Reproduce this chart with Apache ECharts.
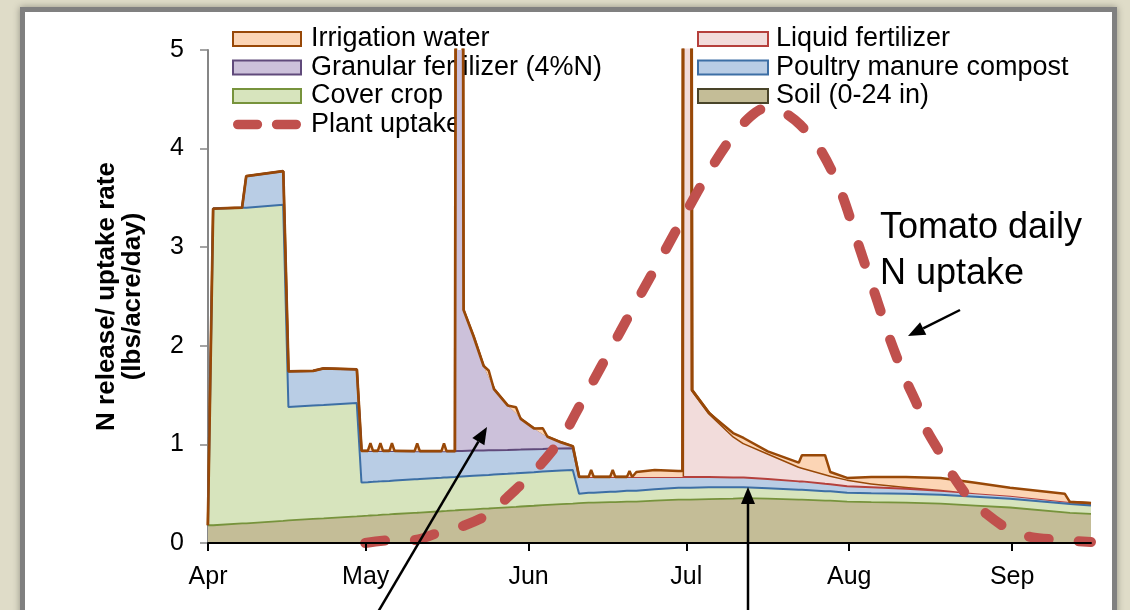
<!DOCTYPE html>
<html>
<head>
<meta charset="utf-8">
<script src="https://cdn.jsdelivr.net/npm/echarts@6/dist/echarts.min.js"></script>
<style>
  html, body { margin: 0; padding: 0; width: 1130px; height: 610px; overflow: hidden; background: #dfdcc8; }
  #panel { position: absolute; left: 20px; top: 7px; width: 1097px; height: 700px; box-sizing: border-box;
           border: 5px solid #808080; background: #fff; box-shadow: 0 0 7px rgba(0,0,0,0.35); }
  #chart { position: absolute; left: 0; top: 0; width: 1130px; height: 610px; }
</style>
</head>
<body>
<div id="panel"></div>
<div id="chart"></div>
<script>
// days after Apr 1
const days = [
  0, 1, 6.5, 7.3, 14.3, 15.3, 20, 22, 28.3, 29.2,
  30.4, 30.9, 31.4, 32.3, 32.8, 33.3, 34.5, 35, 35.5, 39.3,
  39.8, 40.3, 44.4, 44.9, 45.4, 47, 47.4, 48.3, 48.6, 50.5,
  52.4, 53.4, 54.4, 57, 58.6, 59.5, 62, 63.7, 64.6, 67.2,
  69.4, 70.6, 72.4, 72.9, 73.4, 76.5, 77, 77.5, 79.7, 80.2,
  80.7, 81.5, 85, 89.5, 90.3, 90.5, 91.8, 92.1, 95.3, 99.9,
  101.9, 106.5, 112.4, 113, 117.4, 118.4, 121.6, 126.2, 132.8, 139.4,
  146, 152.6, 163, 164, 168
];
const soil = [
  .18, .18, .20, .20, .225, .23, .245, .25, .27, .273,
  .277, .279, .28, .283, .285, .287, .29, .292, .294, .306,
  .307, .309, .322, .324, .325, .33, .332, .335, .336, .342,
  .348, .35, .354, .362, .367, .37, .378, .384, .387, .395,
  .40, .405, .41, .41, .41, .415, .415, .415, .42, .42,
  .42, .42, .43, .44, .44, .44, .44, .44, .445, .45,
  .455, .45, .44, .44, .43, .43, .42, .415, .41, .40,
  .38, .36, .31, .305, .295
];
const coverCrop = [
  0, 3.21, 3.20, 3.20, 3.205, 1.15, 1.15, 1.15, 1.15, .34,
  .34, .34, .34, .34, .34, .34, .34, .34, .34, .34,
  .34, .34, .34, .34, .34, .34, .34, .34, .34, .34,
  .34, .34, .34, .34, .34, .34, .34, .34, .34, .34,
  .34, .095, .10, .10, .10, .105, .105, .105, .11, .11,
  .11, .11, .115, .12, .12, .12, .12, .12, .12, .115,
  .11, .105, .10, .10, .095, .095, .09, .09, .09, .09,
  .09, .09, .09, .09, .085
];
const poultry = [
  0, 0, 0, .32, .34, .36, .35, .37, .34, .32,
  .316, .314, .313, .31, .308, .306, .302, .30, .298, .285,
  .284, .282, .268, .266, .265, .26, .26, .258, .258, .255,
  .25, .25, .247, .242, .24, .238, .234, .23, .229, .224,
  .22, .17, .16, .16, .16, .15, .15, .15, .14, .14,
  .14, .14, .125, .11, .11, .11, .11, .11, .105, .10,
  .10, .095, .085, .085, .075, .07, .065, .06, .05, .04,
  .035, .03, .02, .02, .02
];
const granular = [
  0, 0, 0, 0, 0, 0, 0, 0, 0, 0,
  0, 0, 0, 0, 0, 0, 0, 0, 0, 0,
  0, 0, 0, 0, 0, 0, 12, 12, 1.43, 1.16,
  .86, .74, .62, .45, .37, .31, .21, .15, .12, .06,
  .02, 0, 0, 0, 0, 0, 0, 0, 0, 0,
  0, 0, 0, 0, 0, 0, 0, 0, 0, 0,
  0, 0, 0, 0, 0, 0, 0, 0, 0, 0,
  0, 0, 0, 0, 0
];
const liquid = [
  0, 0, 0, 0, 0, 0, 0, 0, 0, 0,
  0, 0, 0, 0, 0, 0, 0, 0, 0, 0,
  0, 0, 0, 0, 0, 0, 0, 0, 0, 0,
  0, 0, 0, 0, 0, 0, 0, 0, 0, 0,
  0, 0, 0, 0, 0, 0, 0, 0, 0, 0,
  0, 0, 0, 0, 0, 12, 12, .88, .65, .42,
  .35, .26, .15, .14, .10, .09, .07, .04, .02, .01,
  0, 0, 0, 0, 0
];
const irrigation = [
  0, 0, 0, 0, 0, 0, 0, 0, 0, 0,
  0, .08, 0, 0, .08, 0, 0, .08, 0, 0,
  .08, 0, 0, .08, 0, 0, 0, 0, 0, 0,
  0, .07, 0, 0, .06, 0, 0, .06, 0, 0,
  0, 0, 0, .07, 0, 0, .07, 0, 0, .06,
  0, .05, .07, .06, .06, 0, 0, 0, 0, .03,
  .05, .02, .04, .125, .19, .035, .015, .065, .10, .12,
  .105, .08, .08, 0, .005
];
const uptakeDays = [
  29.9, 35.2, 39.0, 45.1, 48.9, 54.0, 56.9, 60.9, 63.7, 67.5,
  70.8, 74.6, 78.4, 82.4, 87.0, 90.8, 95.5, 99.3, 103.1, 106.0,
  108.8, 112.7, 116.5, 120.3, 124.1, 127.3, 129.8, 132.8, 135.1, 136.4,
  139.3, 141.4, 144.6, 148.0, 152.6, 156.6, 162.5, 168
];
const uptake = [
  0, .03, .03, .13, .18, .31, .46, .66, .82, 1.08,
  1.40, 1.77, 2.14, 2.53, 2.97, 3.34, 3.78, 4.09, 4.32, 4.41,
  4.39, 4.24, 3.99, 3.58, 2.97, 2.46, 2.06, 1.65, 1.38, 1.18,
  .91, .71, .47, .30, .13, .06, .03, .01
];
const monthStarts = [0, 30, 61, 91, 122, 153];
const monthLabels = ['Apr', 'May', 'Jun', 'Jul', 'Aug', 'Sep'];

const FONT = '"Liberation Sans", Arial, sans-serif';

// value first, day second, so the stack runs on y
function area(name, vals, fill, line, width, z) {
  return {
    name: name, type: 'line', stack: 'n', z: z,
    symbol: 'none', showSymbol: false,
    data: days.map((d, i) => [vals[i], d]),
    encode: { x: 1, y: 0 },
    lineStyle: { color: line, width: width },
    areaStyle: { color: fill, opacity: 1 },
    itemStyle: { color: fill }
  };
}

function arrow(x1, y1, x2, y2) {
  const a = Math.atan2(y2 - y1, x2 - x1);
  const len = 17, half = 7;
  const bx = x2 - len * Math.cos(a), by = y2 - len * Math.sin(a);
  return [
    { type: 'line', z: 100, shape: { x1: x1, y1: y1, x2: bx, y2: by }, style: { stroke: '#000', lineWidth: 2.5 } },
    { type: 'polygon', z: 100, shape: { points: [[x2, y2],
        [bx + half * Math.sin(a), by - half * Math.cos(a)],
        [bx - half * Math.sin(a), by + half * Math.cos(a)]] }, style: { fill: '#000' } }
  ];
}

function rectItem(name, fill, border) {
  return { name: name, icon: 'rect', itemStyle: { color: fill, borderColor: border, borderWidth: 2 } };
}

const chart = echarts.init(document.getElementById('chart'));
const legendText = { fontSize: 27, lineHeight: 28, color: '#000', fontFamily: FONT, padding: [0, 0, 0, 5] };

chart.setOption({
  animation: false,
  grid: { left: 208, right: 39, top: 50, bottom: 67, outerBoundsMode: 'none' },
  legend: [
    {
      left: 232, top: 25, padding: 0, orient: 'vertical', itemWidth: 68, itemHeight: 14, itemGap: 0.5,
      selectedMode: false, textStyle: legendText,
      data: [
        rectItem('Irrigation water', '#fcd5b5', '#984807'),
        rectItem('Granular fertilizer (4%N)', '#ccc1da', '#604a7b'),
        rectItem('Cover crop', '#d7e4bd', '#77933c'),
        { name: 'Plant uptake', icon: 'path://M5,0H25A5,5 0 0 1 25,10H5A5,5 0 0 1 5,0ZM45,0H65A5,5 0 0 1 65,10H45A5,5 0 0 1 45,0Z',
          itemStyle: { color: '#c0504d' } }
      ]
    },
    {
      left: 697, top: 25, padding: 0, orient: 'vertical', itemWidth: 70, itemHeight: 14, itemGap: 0.5,
      selectedMode: false, textStyle: Object.assign({}, legendText, { padding: [0, 0, 0, 3] }),
      data: [
        rectItem('Liquid fertilizer', '#f2dcdb', '#b5403c'),
        rectItem('Poultry manure compost', '#b9cde5', '#3d6fa5'),
        rectItem('Soil (0-24 in)', '#c4bd97', '#494429')
      ]
    }
  ],
  xAxis: {
    type: 'value', min: 0, max: 168, z: 10,
    axisLine: { show: true, lineStyle: { color: '#000', width: 2 } },
    axisTick: { show: true, customValues: monthStarts, length: 8, lineStyle: { color: '#000', width: 2 } },
    axisLabel: { customValues: monthStarts, margin: 22, fontSize: 25, color: '#000', fontFamily: FONT,
      formatter: v => monthLabels[monthStarts.indexOf(v)] },
    splitLine: { show: false }
  },
  yAxis: {
    type: 'value', min: 0, max: 5, interval: 1,
    name: 'N release/ uptake rate\n(lbs/acre/day)', nameLocation: 'middle', nameGap: 62,
    nameTextStyle: { fontSize: 26, fontWeight: 'bold', lineHeight: 26, color: '#000', fontFamily: FONT },
    axisLine: { show: true, lineStyle: { color: '#868686', width: 2 } },
    axisTick: { show: true, length: 8, lineStyle: { color: '#868686', width: 1.5 } },
    axisLabel: { margin: 24, fontSize: 25, color: '#000', fontFamily: FONT },
    splitLine: { show: false }
  },
  series: [
    area('Soil (0-24 in)', soil, '#c4bd97', '#77933c', 1.8, 7),
    area('Cover crop', coverCrop, '#d7e4bd', '#3d6fa5', 2, 6),
    area('Poultry manure compost', poultry, '#b9cde5',
      { type: 'linear', x: 0, y: 0, x2: 1, y2: 0, colorStops: [
        { offset: 0, color: '#604a7b' }, { offset: 0.43, color: '#604a7b' },
        { offset: 0.43, color: '#b5403c' }, { offset: 1, color: '#b5403c' }] }, 2, 5),
    area('Granular fertilizer (4%N)', granular, '#ccc1da', '#604a7b', 0, 4),
    area('Liquid fertilizer', liquid, '#f2dcdb', '#984807', 3, 3),
    area('Irrigation water', irrigation, '#fcd5b5', '#984807', 2.5, 8),
    {
      name: 'Plant uptake', type: 'line', z: 9, symbol: 'none', showSymbol: false, smooth: 0.3,
      data: uptakeDays.map((d, i) => [d, uptake[i]]),
      lineStyle: { color: '#c0504d', width: 10, type: [20, 30], cap: 'round' },
      itemStyle: { color: '#c0504d' }
    }
  ],
  graphic: [
    { type: 'text', z: 100, x: 880, y: 205,
      style: { text: 'Tomato daily\nN uptake', font: '36px ' + FONT, fill: '#000', lineHeight: 46, verticalAlign: 'top' } }
  ].concat(arrow(378, 612, 487, 427), arrow(748, 612, 748, 487), arrow(960, 310, 908, 336))
});
</script>
</body>
</html>
